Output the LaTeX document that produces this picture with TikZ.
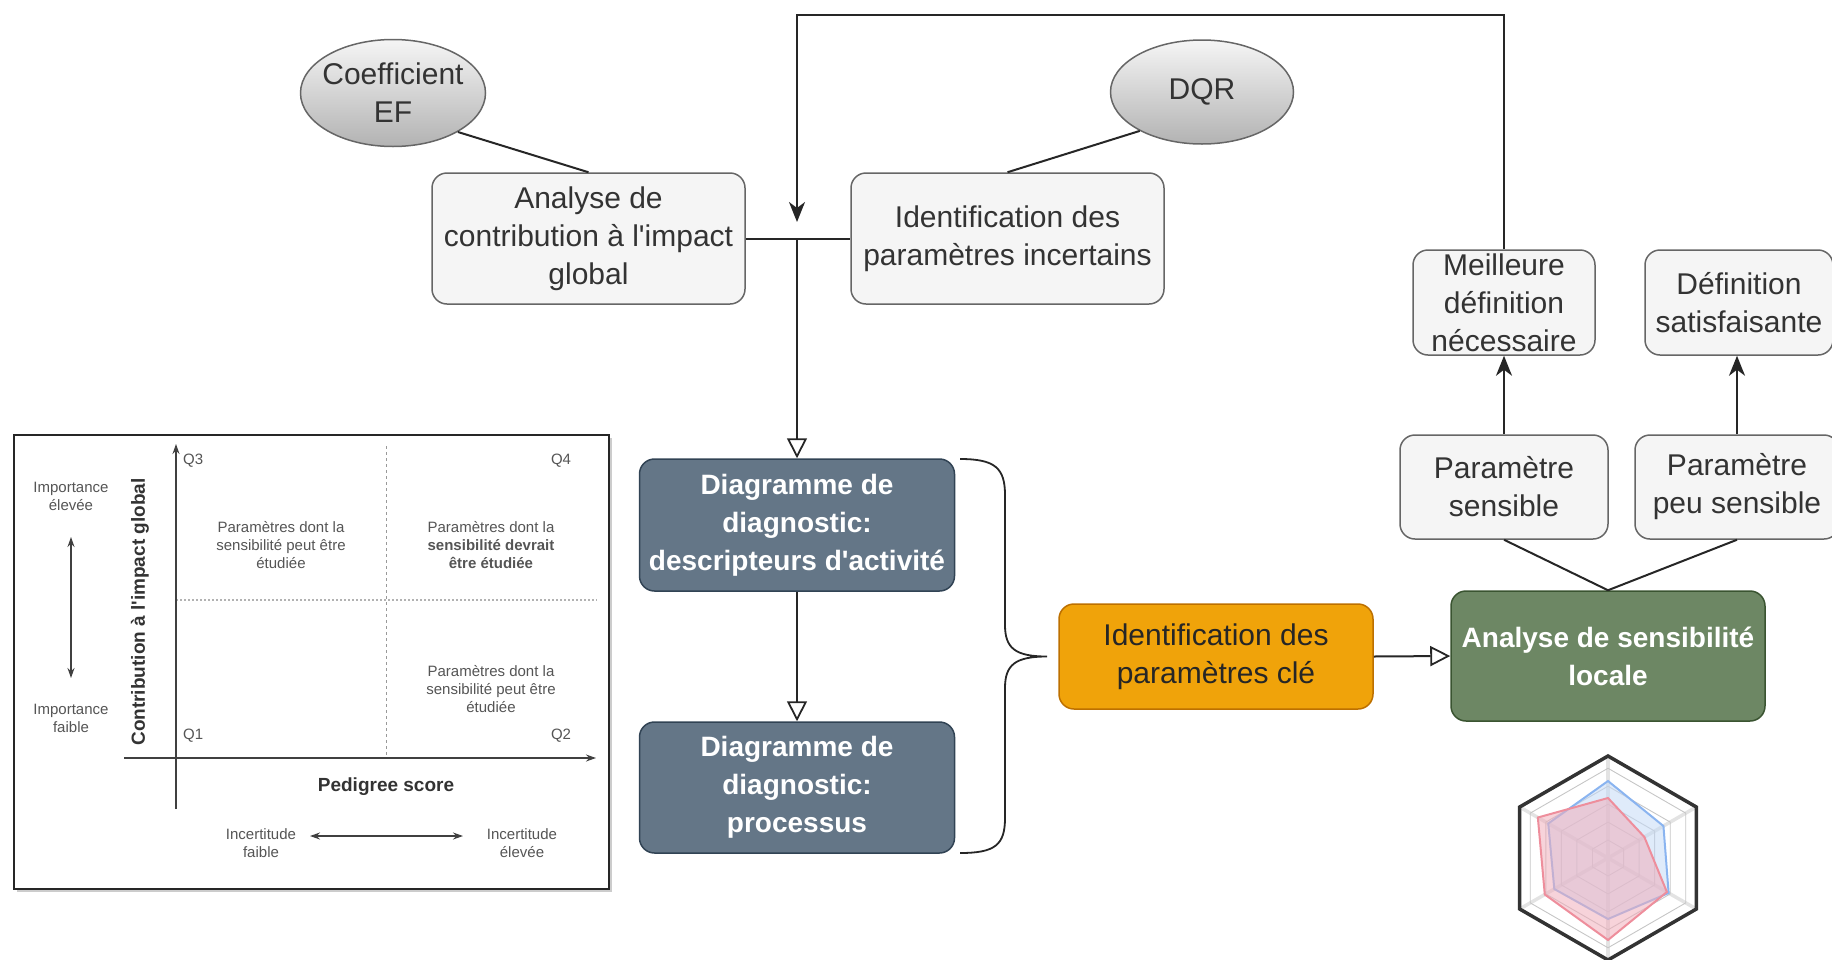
\documentclass[tikz,border=0pt]{standalone}
\usepackage{fontspec}
\setmainfont{Liberation Sans}[Ligatures=TeXOff]
\usetikzlibrary{arrows.meta,shapes.geometric,calc}
\definecolor{lgfill}{HTML}{F5F5F5}
\definecolor{lgdraw}{HTML}{666666}
\definecolor{lgtext}{HTML}{333333}
\definecolor{slfill}{HTML}{647687}
\definecolor{sldraw}{HTML}{314354}
\definecolor{orfill}{HTML}{F0A30A}
\definecolor{ordraw}{HTML}{BD7000}
\definecolor{grfill}{HTML}{6D8764}
\definecolor{grdraw}{HTML}{3A5431}
\definecolor{radblue}{HTML}{8AB4F0}
\definecolor{radbluefill}{HTML}{C4DAF6}
\definecolor{radred}{HTML}{EE8E9C}
\definecolor{radredfill}{HTML}{F0AEBB}
\definecolor{charttext}{HTML}{555555}
\begin{document}
\begin{tikzpicture}[x=1pt,y=-1pt,
  base/.style={rounded corners=15pt, line width=1.5pt, align=center, inner sep=0pt, font=\fontsize{30}{38}\selectfont},
  lightbox/.style={base, fill=lgfill, draw=lgdraw, text=lgtext},
  slatebox/.style={base, fill=slfill, draw=sldraw, text=white, font=\bfseries\fontsize{28}{38}\selectfont},
  orangebox/.style={base, fill=orfill, draw=ordraw, text=black!85},
  greenbox/.style={base, fill=grfill, draw=grdraw, text=white, font=\bfseries\fontsize{28}{38}\selectfont},
  grayell/.style={ellipse, draw=lgdraw, line width=1.5pt, top color=lgfill, bottom color=black!30, text=lgtext, align=center, inner sep=0pt, font=\fontsize{30}{38}\selectfont},
  conn/.style={line width=2pt, draw=black!85},
  openarr/.style={-{Triangle[open,length=20pt,width=20pt,line width=1.8pt]}},
  filarr/.style={-{Stealth[length=20pt,width=16pt,inset=6pt]}},
  charttxt/.style={text=charttext, align=center, inner sep=0pt, font=\fontsize{15}{18}\selectfont},
  chartarr/.style={line width=1.3pt, draw=black!75},
  smalltip/.style={-{Stealth[length=10pt,width=7pt]}},
  bothtip/.style={{Stealth[length=10pt,width=7pt]}-{Stealth[length=10pt,width=7pt]}},
]
\useasboundingbox (0,0) rectangle (1832,959);

% ---------------- main flow ----------------
\node[grayell, inner xsep=-22pt, minimum width=185pt, minimum height=107pt] (coef) at (393,93) {Coefficient\\EF};
\node[grayell, minimum width=183pt, minimum height=104pt] (dqr) at (1202,92) {DQR};
\node[lightbox, minimum width=313pt, minimum height=131pt] (contrib) at (588.5,238.5) {Analyse de\\contribution à l'impact\\global};
\node[lightbox, minimum width=313pt, minimum height=131pt] (incert) at (1007.5,238.5) {Identification des\\paramètres incertains};
\node[slatebox, minimum width=315pt, minimum height=132pt] (diag1) at (797,525) {Diagramme de\\diagnostic:\\descripteurs d'activité};
\node[slatebox, minimum width=315pt, minimum height=131pt] (diag2) at (797,787.5) {Diagramme de\\diagnostic:\\processus};
\node[orangebox, minimum width=314pt, minimum height=105pt] (cle) at (1216,656.5) {Identification des\\paramètres clé};
\node[greenbox, minimum width=314pt, minimum height=130pt] (sens) at (1608,656) {Analyse de sensibilité\\locale};
\node[lightbox, minimum width=208pt, minimum height=104pt] (psens) at (1504,487) {Paramètre\\sensible};
\node[lightbox, minimum width=204pt, minimum height=104pt] (ppeu) at (1737,487) {Paramètre\\peu sensible};
\node[lightbox, minimum width=182pt, minimum height=105pt] (meil) at (1504,302.5) {Meilleure\\définition\\nécessaire};
\node[lightbox, minimum width=188pt, minimum height=105pt] (defsat) at (1739,302.5) {Définition\\satisfaisante};

\coordinate (J) at (797,238.5);
\coordinate (T) at (797,222);

\draw[conn] (coef.-31) -- (contrib.north);
\draw[conn] (dqr.-148) -- (incert.north);
\draw[conn] (contrib.east) -- (incert.west);
\draw[conn, filarr] (meil.north) |- (797,15) -- (T);
\draw[conn, openarr] (J) -- (diag1.north);
\draw[conn, openarr] (diag1.south) -- (diag2.north);
\draw[conn, openarr] (cle.east) -- (sens.west);
\draw[conn] (sens.north) -- (psens.south);
\draw[conn] (sens.north) -- (ppeu.south);
\draw[conn, filarr] (psens.north) -- (meil.south);
\draw[conn, filarr] (ppeu.north) -- (ppeu.north |- defsat.south);

% brace
\draw[line width=1.8pt, black!85] (960,459) .. controls (995,459) and (1005,468) .. (1005,495) -- (1005,625) .. controls (1005,648) and (1015,656.5) .. (1047,656.5) .. controls (1015,656.5) and (1005,665) .. (1005,688) -- (1005,818) .. controls (1005,845) and (995,853) .. (960,853);

% ---------------- chart (left) ----------------
\fill[black!20] (17,438) rectangle (612,892);
\draw[line width=2.5pt, draw=black!85, fill=white] (14,435) rectangle (609,889);
\draw[gray!80, dashed, line width=1pt] (386,446) -- (386,758);
\draw[gray!60, dotted, line width=2pt] (176,600) -- (597,600);
\draw[chartarr, smalltip] (176,809) -- (176,444);
\draw[chartarr, smalltip] (124,758) -- (596,758);
\draw[chartarr, bothtip] (71,537) -- (71,678);
\draw[chartarr, bothtip] (310,836) -- (463,836);

\node[charttxt, anchor=west] (q3) at (183,461) {Q3};
\node[charttxt] (q4) at (561,461) {Q4};
\node[charttxt, anchor=west] (q1) at (183,736) {Q1};
\node[charttxt] (q2) at (561,736) {Q2};
\node[charttxt] (imphi) at (71,496) {Importance\\élevée};
\node[charttxt] (implo) at (71,718) {Importance\\faible};
\node[charttxt] (t3) at (281,545) {Paramètres dont la\\sensibilité peut être\\étudiée};
\node[charttxt] (t4) at (491,545) {Paramètres dont la\\\textbf{sensibilité devrait}\\\textbf{être étudiée}};
\node[charttxt] (t2) at (491,689) {Paramètres dont la\\sensibilité peut être\\étudiée};
\node[charttxt, text=black!80, font=\bfseries\fontsize{19}{22}\selectfont] (xlab) at (386,787) {Pedigree score};
\node[charttxt, text=black!80, rotate=90, font=\bfseries\fontsize{19}{22}\selectfont] (ylab) at (140,612) {Contribution à l'impact global};
\node[charttxt] (inclo) at (261,843) {Incertitude\\faible};
\node[charttxt] (inchi) at (522,843) {Incertitude\\élevée};

% ---------------- radar chart ----------------
\begin{scope}[shift={(1608,858)}]
  \foreach \a in {90,30,-30,-90,-150,150} \draw[gray!22, line width=3.5pt] (0,0) -- (\a:102pt);
  \foreach \f in {0.176,0.352,0.528,0.704,0.88} {
    \pgfmathsetmacro\rr{\f*102}
    \draw[gray!45, line width=0.9pt] (90:\rr pt) -- (30:\rr pt) -- (-30:\rr pt) -- (-90:\rr pt) -- (-150:\rr pt) -- (150:\rr pt) -- cycle;
  }
  \filldraw[fill=radbluefill, fill opacity=0.55, draw=radblue, line width=2pt] (90:77pt) -- (30:64pt) -- (-30:70pt) -- (-90:61pt) -- (-150:62pt) -- (150:69pt) -- cycle;
  \filldraw[fill=radredfill, fill opacity=0.55, draw=radred, line width=2pt] (90:60pt) -- (30:42pt) -- (-30:68pt) -- (-90:82pt) -- (-150:73pt) -- (150:81pt) -- cycle;
  \draw[black!80, line width=3.5pt, line join=miter] (90:102pt) -- (30:102pt) -- (-30:102pt) -- (-90:102pt) -- (-150:102pt) -- (150:102pt) -- cycle;
\end{scope}
\end{tikzpicture}
\end{document}
